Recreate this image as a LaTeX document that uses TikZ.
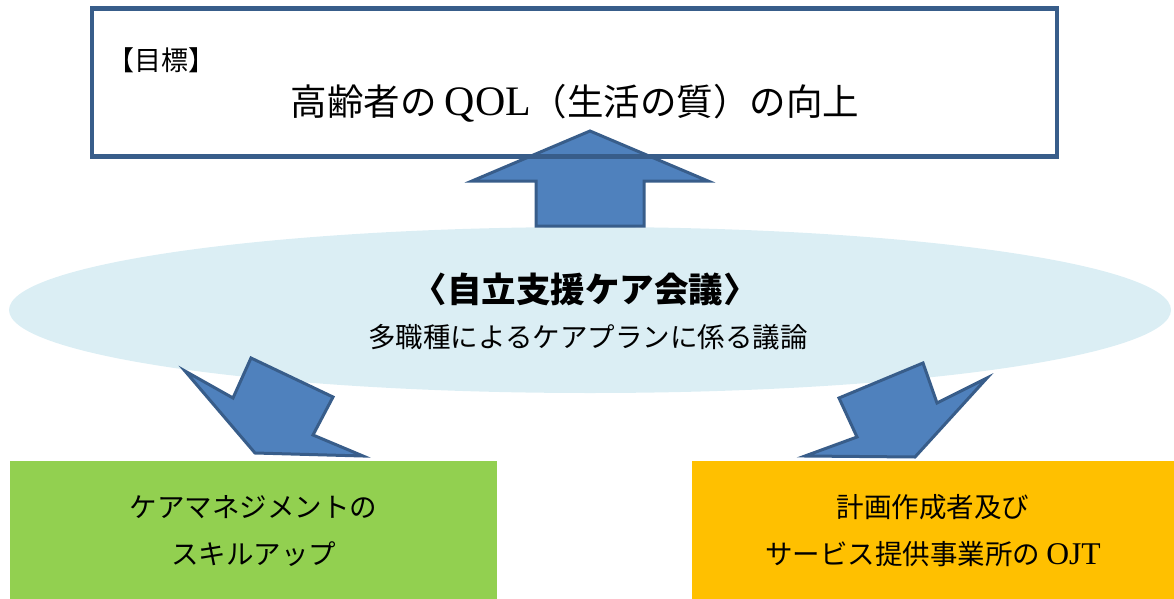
\documentclass[tikz,border=0pt]{standalone}
\usepackage{fontspec}
\usetikzlibrary{shapes.geometric}
\setmainfont{Noto Sans CJK JP}
\newfontfamily\latinserif[Scale=1.15]{Liberation Serif}
\definecolor{meetingblue}{RGB}{219,238,244}
\definecolor{arrowfill}{RGB}{79,129,189}
\definecolor{arrowline}{RGB}{56,93,138}
\definecolor{skillgreen}{RGB}{146,208,80}
\definecolor{ojtorange}{RGB}{255,192,0}
\begin{document}
\begin{tikzpicture}[x=1pt,y=-1pt,
    blockarrow/.style={fill=arrowfill,draw=arrowline,line width=3pt,line join=miter},
    goalbox/.style={draw=arrowline,line width=4.5pt,minimum width=965pt,minimum height=148pt,inner sep=0pt},
    resultbox/.style={minimum height=140pt,inner sep=0pt,align=center,font=\fontsize{27.5}{47}\selectfont}]
    \useasboundingbox (0,0) rectangle (1174,599);
    % meeting
    \node[ellipse,fill=meetingblue,minimum width=1162pt,minimum height=166pt,inner sep=0pt] (meeting) at (590,310) {};
    % arrows
    \draw[blockarrow] (590,131) -- (708,181) -- (644,181) -- (644,226) -- (536,226) -- (536,181) -- (472,181) -- cycle;
    \draw[blockarrow] (255,453) -- (185,371) -- (233,398) -- (251,358) -- (333,397) -- (313,435) -- (363,456) -- cycle;
    \draw[blockarrow] (915,457) -- (987,378) -- (937,403) -- (923,363) -- (839,398) -- (857,437) -- (805,456) -- cycle;
    % goal
    \node[goalbox] (goal) at (574.25,82.5) {};
    \node[anchor=west,font=\fontsize{27}{32}\selectfont] (goaltag) at (104,60) {【目標】};
    \node[font=\fontsize{36.5}{44}\selectfont] (goaltext) at (575,103) {高齢者の {\latinserif QOL}（生活の質）の向上};
    % meeting text
    \node[font=\bfseries\fontsize{34.5}{40}\selectfont] (meetingtitle) at (585,289) {〈自立支援ケア会議〉};
    \node[font=\fontsize{27.5}{32}\selectfont] (meetingsub) at (588,337) {多職種によるケアプランに係る議論};
    % results
    \node[resultbox,fill=skillgreen,minimum width=487pt] (skill) at (253.5,531) {ケアマネジメントの\\スキルアップ};
    \node[resultbox,fill=ojtorange,minimum width=482pt] (ojt) at (933,531) {計画作成者及び\\サービス提供事業所の {\latinserif OJT}};
\end{tikzpicture}
\end{document}
